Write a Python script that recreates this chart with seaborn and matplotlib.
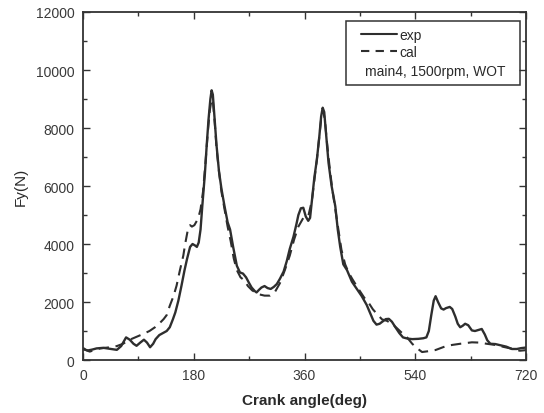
import matplotlib
matplotlib.use("Agg")
import matplotlib.pyplot as plt
from matplotlib.lines import Line2D
from matplotlib.patches import Rectangle
from matplotlib.ticker import MultipleLocator
import pandas as pd
import seaborn as sns

# Measured main bearing force, main4 journal, 1500 rpm, wide open throttle
exp_angle = [0, 8, 15, 22, 33, 45, 55, 62, 70, 76, 82, 87, 93, 99, 104, 109, 114,
             118, 124, 130, 136, 141, 146, 150, 155, 160, 165, 169, 174, 178, 182,
             185, 188, 191, 194, 198, 201, 204, 207, 209, 211, 214, 217, 221, 225,
             230, 235, 239, 244, 250, 255, 260, 265, 270, 274, 279, 282, 286, 290,
             295, 300, 305, 310, 315, 320, 326, 331, 336, 342, 347, 350, 354, 358,
             362, 366, 369, 372, 376, 380, 384, 387, 389.5, 392, 395, 399, 404, 410,
             414, 418, 423, 429, 437, 445, 453, 461, 467, 472, 477, 482, 487, 492,
             497, 502, 508, 514, 520, 527, 535, 545, 553, 558, 562, 566, 570, 573,
             577, 582, 586, 590, 596, 600, 605, 609, 613, 617, 621, 626, 632, 637,
             643, 648, 653, 657, 662, 670, 680, 688, 697, 705, 712, 720]
exp_force = [370, 330, 360, 400, 420, 380, 350, 480, 780, 700, 560, 490, 600, 700,
             600, 440, 560, 720, 860, 930, 1000, 1130, 1400, 1640, 2050, 2560, 3100,
             3480, 3900, 4000, 3950, 3900, 4050, 4500, 5350, 6400, 7400, 8300, 9000,
             9300, 9150, 8300, 7400, 6500, 5900, 5300, 4750, 4500, 3900, 3250, 3020,
             2980, 2850, 2650, 2500, 2380, 2330, 2420, 2500, 2550, 2480, 2450, 2520,
             2620, 2800, 3050, 3400, 3830, 4250, 4700, 5000, 5230, 5250, 4950, 4800,
             4900, 5500, 6300, 6900, 7700, 8400, 8700, 8550, 7800, 6800, 6000, 5300,
             4500, 3900, 3300, 3100, 2700, 2450, 2200, 1900, 1600, 1350, 1220, 1250,
             1330, 1410, 1420, 1320, 1120, 930, 780, 740, 720, 730, 750, 780, 1000,
             1550, 2050, 2200, 2000, 1780, 1740, 1790, 1830, 1760, 1500, 1250, 1130,
             1180, 1250, 1200, 1020, 1000, 1040, 1070, 880, 680, 560, 550, 500, 460,
             380, 380, 410, 430]

# Calculated force for the same operating point
cal_angle = [0, 6, 11, 18, 28, 40, 55, 65, 76, 87, 98, 108, 117, 125, 131, 136, 141,
             147, 152, 157, 163, 166, 170, 174, 177, 181, 185, 188, 191, 195, 199,
             203, 206, 209, 211, 214, 217, 221, 225, 230, 235, 240, 245, 250, 256,
             262, 268, 275, 285, 295, 304, 312, 320, 328, 336, 343, 350, 358, 366,
             372, 376, 380, 384, 387, 390, 393, 396, 400, 405, 410, 415, 420, 426,
             432, 438, 448, 457, 464, 471, 478, 486, 494, 502, 510, 518, 527, 535,
             542, 551, 560, 573, 590, 600, 613, 632, 645, 656, 670, 686, 699, 710, 720]
cal_force = [420, 330, 290, 340, 400, 430, 480, 560, 700, 800, 900, 1000, 1130, 1280,
             1410, 1550, 1870, 2200, 2560, 3050, 3600, 4000, 4450, 4650, 4600, 4650,
             4800, 4950, 5200, 5800, 6800, 7900, 8600, 9000, 8950, 8200, 7300, 6500,
             5800, 5200, 4600, 4100, 3500, 3100, 2850, 2750, 2550, 2400, 2270, 2220,
             2220, 2350, 2650, 3100, 3600, 4150, 4600, 4900, 4950, 5500, 6200, 6900,
             7700, 8300, 8600, 8300, 7600, 6800, 5900, 5200, 4500, 3800, 3300, 3000,
             2780, 2440, 2150, 1980, 1750, 1580, 1400, 1350, 1250, 1100, 940, 770,
             560, 420, 275, 300, 345, 480, 520, 560, 610, 600, 560, 520, 440, 380,
             320, 340]

x_ticks = [0, 180, 360, 540, 720]
y_ticks = [0, 2000, 4000, 6000, 8000, 10000, 12000]
legend_labels = ["exp", "cal", "main4, 1500rpm, WOT"]

sns.set_theme(style="ticks")
plt.rcParams["font.family"] = ["Liberation Sans", "DejaVu Sans"]

exp_df = pd.DataFrame({"angle": exp_angle, "force": exp_force})
cal_df = pd.DataFrame({"angle": cal_angle, "force": cal_force})

line_color = "#2e2e2e"
fig = plt.figure(figsize=(5.44, 4.14), dpi=100)
ax = fig.add_axes([0.1526, 0.128, 0.8144, 0.8406])

sns.lineplot(data=exp_df, x="angle", y="force", ax=ax, color=line_color,
             linewidth=1.7, estimator=None, sort=False)
sns.lineplot(data=cal_df, x="angle", y="force", ax=ax, color=line_color,
             linewidth=1.5, estimator=None, sort=False, dashes=False)
ax.lines[1].set_dashes((5, 3.2))

ax.set_xlim(0, 720)
ax.set_ylim(0, 12000)
ax.set_xticks(x_ticks)
ax.set_yticks(y_ticks)
ax.xaxis.set_minor_locator(MultipleLocator(90))
ax.yaxis.set_minor_locator(MultipleLocator(1000))
ax.tick_params(which="both", direction="in", top=True, right=True,
               color="#333333", width=1.0, labelsize=10, labelcolor="#3a3a3a")
ax.tick_params(which="major", length=5, pad=6)
ax.tick_params(which="minor", length=3)
for sp in ax.spines.values():
    sp.set_color("#333333")
    sp.set_linewidth(1.3)

ax.set_xlabel("Crank angle(deg)", fontsize=11, fontweight="bold",
              color="#2a2a2a", labelpad=8)
ax.set_ylabel("Fy(N)", fontsize=11, color="#2a2a2a", labelpad=6)

# Legend box: two line entries plus a caption line for the operating point
handles = [Line2D([], [], color=line_color, linewidth=1.5),
           Line2D([], [], color=line_color, linewidth=1.5, dashes=(4, 3))]
leg = ax.legend(handles, legend_labels[:2], loc="upper left",
                bbox_to_anchor=(0.603, 0.985), frameon=False, fontsize=10,
                handlelength=2.6, handletextpad=0.15, labelspacing=0.2,
                borderpad=0.3)
for t in leg.get_texts():
    t.set_color("#2a2a2a")
ax.text(0.636, 0.830, legend_labels[2], transform=ax.transAxes, fontsize=10,
        color="#2a2a2a", va="center", ha="left")
ax.add_patch(Rectangle((0.594, 0.790), 0.392, 0.184, transform=ax.transAxes,
                       fill=False, edgecolor="#333333", linewidth=1.1, zorder=5))

fig.savefig("out.png", dpi=100)
